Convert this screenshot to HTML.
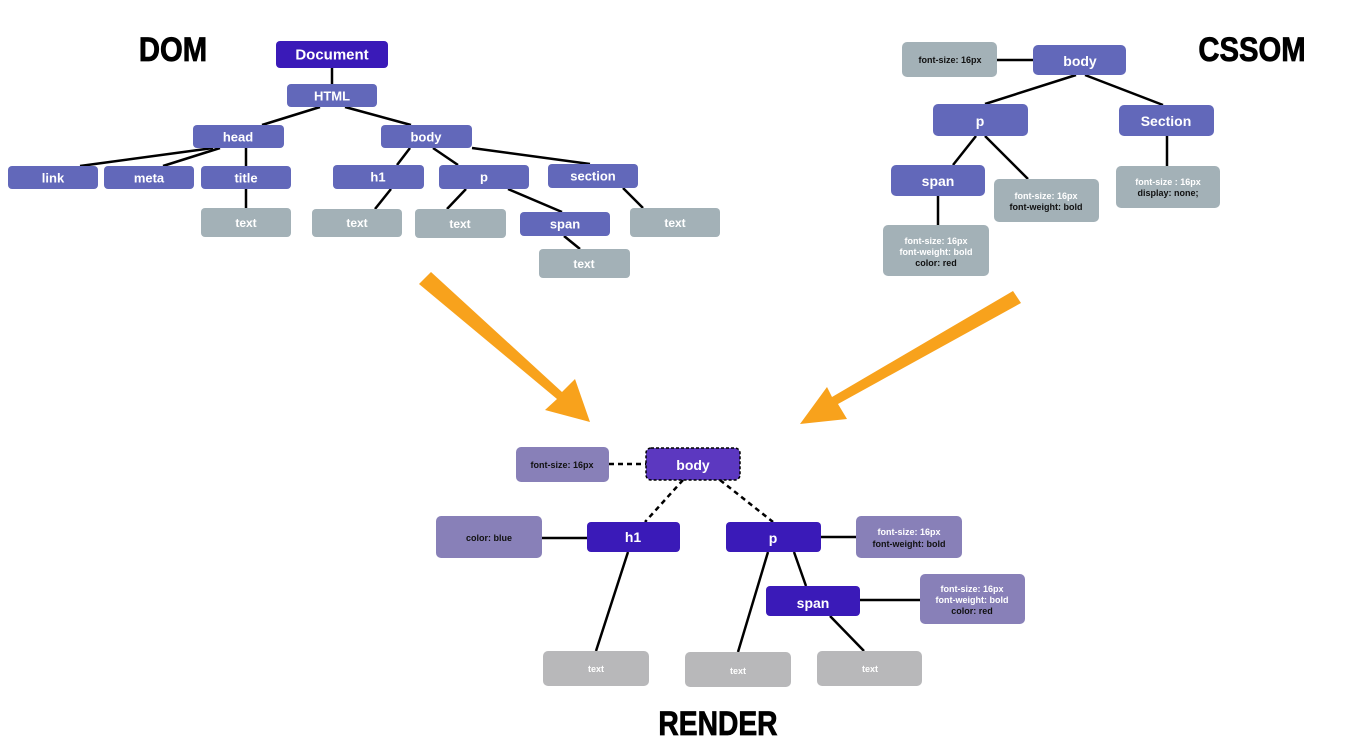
<!DOCTYPE html>
<html><head><meta charset="utf-8"><style>
html,body{margin:0;padding:0;background:#fff;width:1350px;height:748px;overflow:hidden}
svg text{font-family:"Liberation Sans",sans-serif;font-weight:bold;text-anchor:middle;dominant-baseline:central}
.t{font-family:"Liberation Sans",sans-serif;font-weight:bold;font-size:34px;fill:#000;dominant-baseline:alphabetic;stroke:#000;stroke-width:0.8}
</style></head><body>
<svg width="1350" height="748" xmlns="http://www.w3.org/2000/svg">
<text class="t" x="0" y="61" transform="translate(173,0) scale(0.86,1)">DOM</text>
<text class="t" x="0" y="61" transform="translate(1252,0) scale(0.86,1)">CSSOM</text>
<text class="t" x="0" y="735" transform="translate(718,0) scale(0.83,1)">RENDER</text>
<g stroke="#000" stroke-width="2.5" fill="none">
<line x1="332" y1="68" x2="332" y2="84"/>
<line x1="320" y1="107" x2="262" y2="125"/>
<line x1="345" y1="107" x2="411" y2="125"/>
<line x1="213" y1="148" x2="80" y2="166"/>
<line x1="220" y1="148" x2="163" y2="166"/>
<line x1="246" y1="148" x2="246" y2="166"/>
<line x1="410" y1="148" x2="397" y2="165"/>
<line x1="433" y1="148" x2="458" y2="165"/>
<line x1="472" y1="148" x2="590" y2="164"/>
<line x1="246" y1="189" x2="246" y2="208"/>
<line x1="391" y1="189" x2="375" y2="209"/>
<line x1="466" y1="189" x2="447" y2="209"/>
<line x1="508" y1="189" x2="562" y2="212"/>
<line x1="623" y1="188" x2="643" y2="208"/>
<line x1="564" y1="236" x2="580" y2="249"/>
<line x1="997" y1="60" x2="1033" y2="60"/>
<line x1="1076" y1="75" x2="985" y2="104"/>
<line x1="1085" y1="75" x2="1163" y2="105"/>
<line x1="976" y1="136" x2="953" y2="165"/>
<line x1="985" y1="136" x2="1028" y2="179"/>
<line x1="938" y1="196" x2="938" y2="225"/>
<line x1="1167" y1="136" x2="1167" y2="166"/>
<line x1="542" y1="538" x2="587" y2="538"/>
<line x1="821" y1="537" x2="856" y2="537"/>
<line x1="860" y1="600" x2="920" y2="600"/>
<line x1="628" y1="552" x2="596" y2="651"/>
<line x1="768" y1="552" x2="738" y2="652"/>
<line x1="794" y1="552" x2="806" y2="586"/>
<line x1="830" y1="616" x2="864" y2="651"/>
</g>
<g stroke="#000" stroke-width="2.5" stroke-dasharray="5,4" fill="none">
<line x1="609" y1="464" x2="646" y2="464"/>
<line x1="683" y1="480" x2="645" y2="522"/>
<line x1="720" y1="480" x2="773" y2="522"/>
</g>
<g fill="#f8a21c" stroke="none">
<polygon points="419,284 431,272 562,392 575,379 590,422 545,410 557,399"/>
<polygon points="1013,291 1021,303 838,404 847,419 800,424 827,387 832,397"/>
</g>
<g font-size="13" fill="#fff">
<rect x="276" y="41" width="112" height="27" rx="4" fill="#3a1ab8"/><text x="332" y="55" font-size="15">Document</text>
<g fill="#6268ba">
<rect x="287" y="84" width="90" height="23" rx="4"/><rect x="193" y="125" width="91" height="23" rx="4"/><rect x="381" y="125" width="91" height="23" rx="4"/>
<rect x="8" y="166" width="90" height="23" rx="4"/><rect x="104" y="166" width="90" height="23" rx="4"/><rect x="201" y="166" width="90" height="23" rx="4"/>
<rect x="333" y="165" width="91" height="24" rx="4"/><rect x="439" y="165" width="90" height="24" rx="4"/><rect x="548" y="164" width="90" height="24" rx="4"/>
<rect x="520" y="212" width="90" height="24" rx="4"/>
<rect x="1033" y="45" width="93" height="30" rx="5"/><rect x="933" y="104" width="95" height="32" rx="5"/><rect x="1119" y="105" width="95" height="31" rx="5"/><rect x="891" y="165" width="94" height="31" rx="5"/>
</g>
<g fill="#a3b1b7">
<rect x="201" y="208" width="90" height="29" rx="4"/><rect x="312" y="209" width="90" height="28" rx="4"/><rect x="415" y="209" width="91" height="29" rx="4"/><rect x="630" y="208" width="90" height="29" rx="4"/><rect x="539" y="249" width="91" height="29" rx="4"/>
<rect x="902" y="42" width="95" height="35" rx="5"/><rect x="994" y="179" width="105" height="43" rx="5"/><rect x="883" y="225" width="106" height="51" rx="5"/><rect x="1116" y="166" width="104" height="42" rx="5"/>
</g>
<text x="332" y="96">HTML</text><text x="238" y="137">head</text><text x="426" y="137">body</text>
<text x="53" y="178">link</text><text x="149" y="178">meta</text><text x="246" y="178">title</text>
<text x="378" y="177">h1</text><text x="484" y="177">p</text><text x="593" y="176">section</text><text x="565" y="224">span</text>
<text x="246" y="223" font-size="12">text</text><text x="357" y="223" font-size="12">text</text><text x="460" y="224" font-size="12">text</text><text x="675" y="223" font-size="12">text</text><text x="584" y="264" font-size="12">text</text>
<text x="1080" y="61" font-size="14">body</text><text x="980" y="121" font-size="14">p</text><text x="1166" y="121" font-size="14">Section</text><text x="938" y="181" font-size="14">span</text>
<g font-size="9">
<text x="950" y="60" fill="#111">font-size: 16px</text>
<text x="1046" y="196">font-size: 16px</text><text x="1046" y="207" fill="#111">font-weight: bold</text>
<text x="936" y="241">font-size: 16px</text><text x="936" y="252">font-weight: bold</text><text x="936" y="263" fill="#111">color: red</text>
<text x="1168" y="182">font-size : 16px</text><text x="1168" y="193" fill="#111">display: none;</text>
</g>
<g fill="#8880b8">
<rect x="516" y="447" width="93" height="35" rx="5"/><rect x="436" y="516" width="106" height="42" rx="5"/><rect x="856" y="516" width="106" height="42" rx="5"/><rect x="920" y="574" width="105" height="50" rx="5"/>
</g>
<rect x="646" y="448" width="94" height="32" rx="5" fill="#5c38c0" stroke="#000" stroke-width="1.5" stroke-dasharray="3,2"/>
<g fill="#3a1ab8"><rect x="587" y="522" width="93" height="30" rx="4"/><rect x="726" y="522" width="95" height="30" rx="4"/><rect x="766" y="586" width="94" height="30" rx="4"/></g>
<g fill="#b8b8ba"><rect x="543" y="651" width="106" height="35" rx="5"/><rect x="685" y="652" width="106" height="35" rx="5"/><rect x="817" y="651" width="105" height="35" rx="5"/></g>
<text x="693" y="465" font-size="14">body</text><text x="633" y="537" font-size="14">h1</text><text x="773" y="538" font-size="14">p</text><text x="813" y="603" font-size="14">span</text>
<g font-size="9" fill="#111">
<text x="562" y="465">font-size: 16px</text><text x="489" y="538">color: blue</text>
<text x="909" y="532" fill="#fff">font-size: 16px</text><text x="909" y="544">font-weight: bold</text>
<text x="972" y="589" fill="#fff">font-size: 16px</text><text x="972" y="600" fill="#fff">font-weight: bold</text><text x="972" y="611">color: red</text>
</g>
<g font-size="9"><text x="596" y="669">text</text><text x="738" y="671">text</text><text x="870" y="669">text</text></g>
</g>
</svg>
</body></html>
